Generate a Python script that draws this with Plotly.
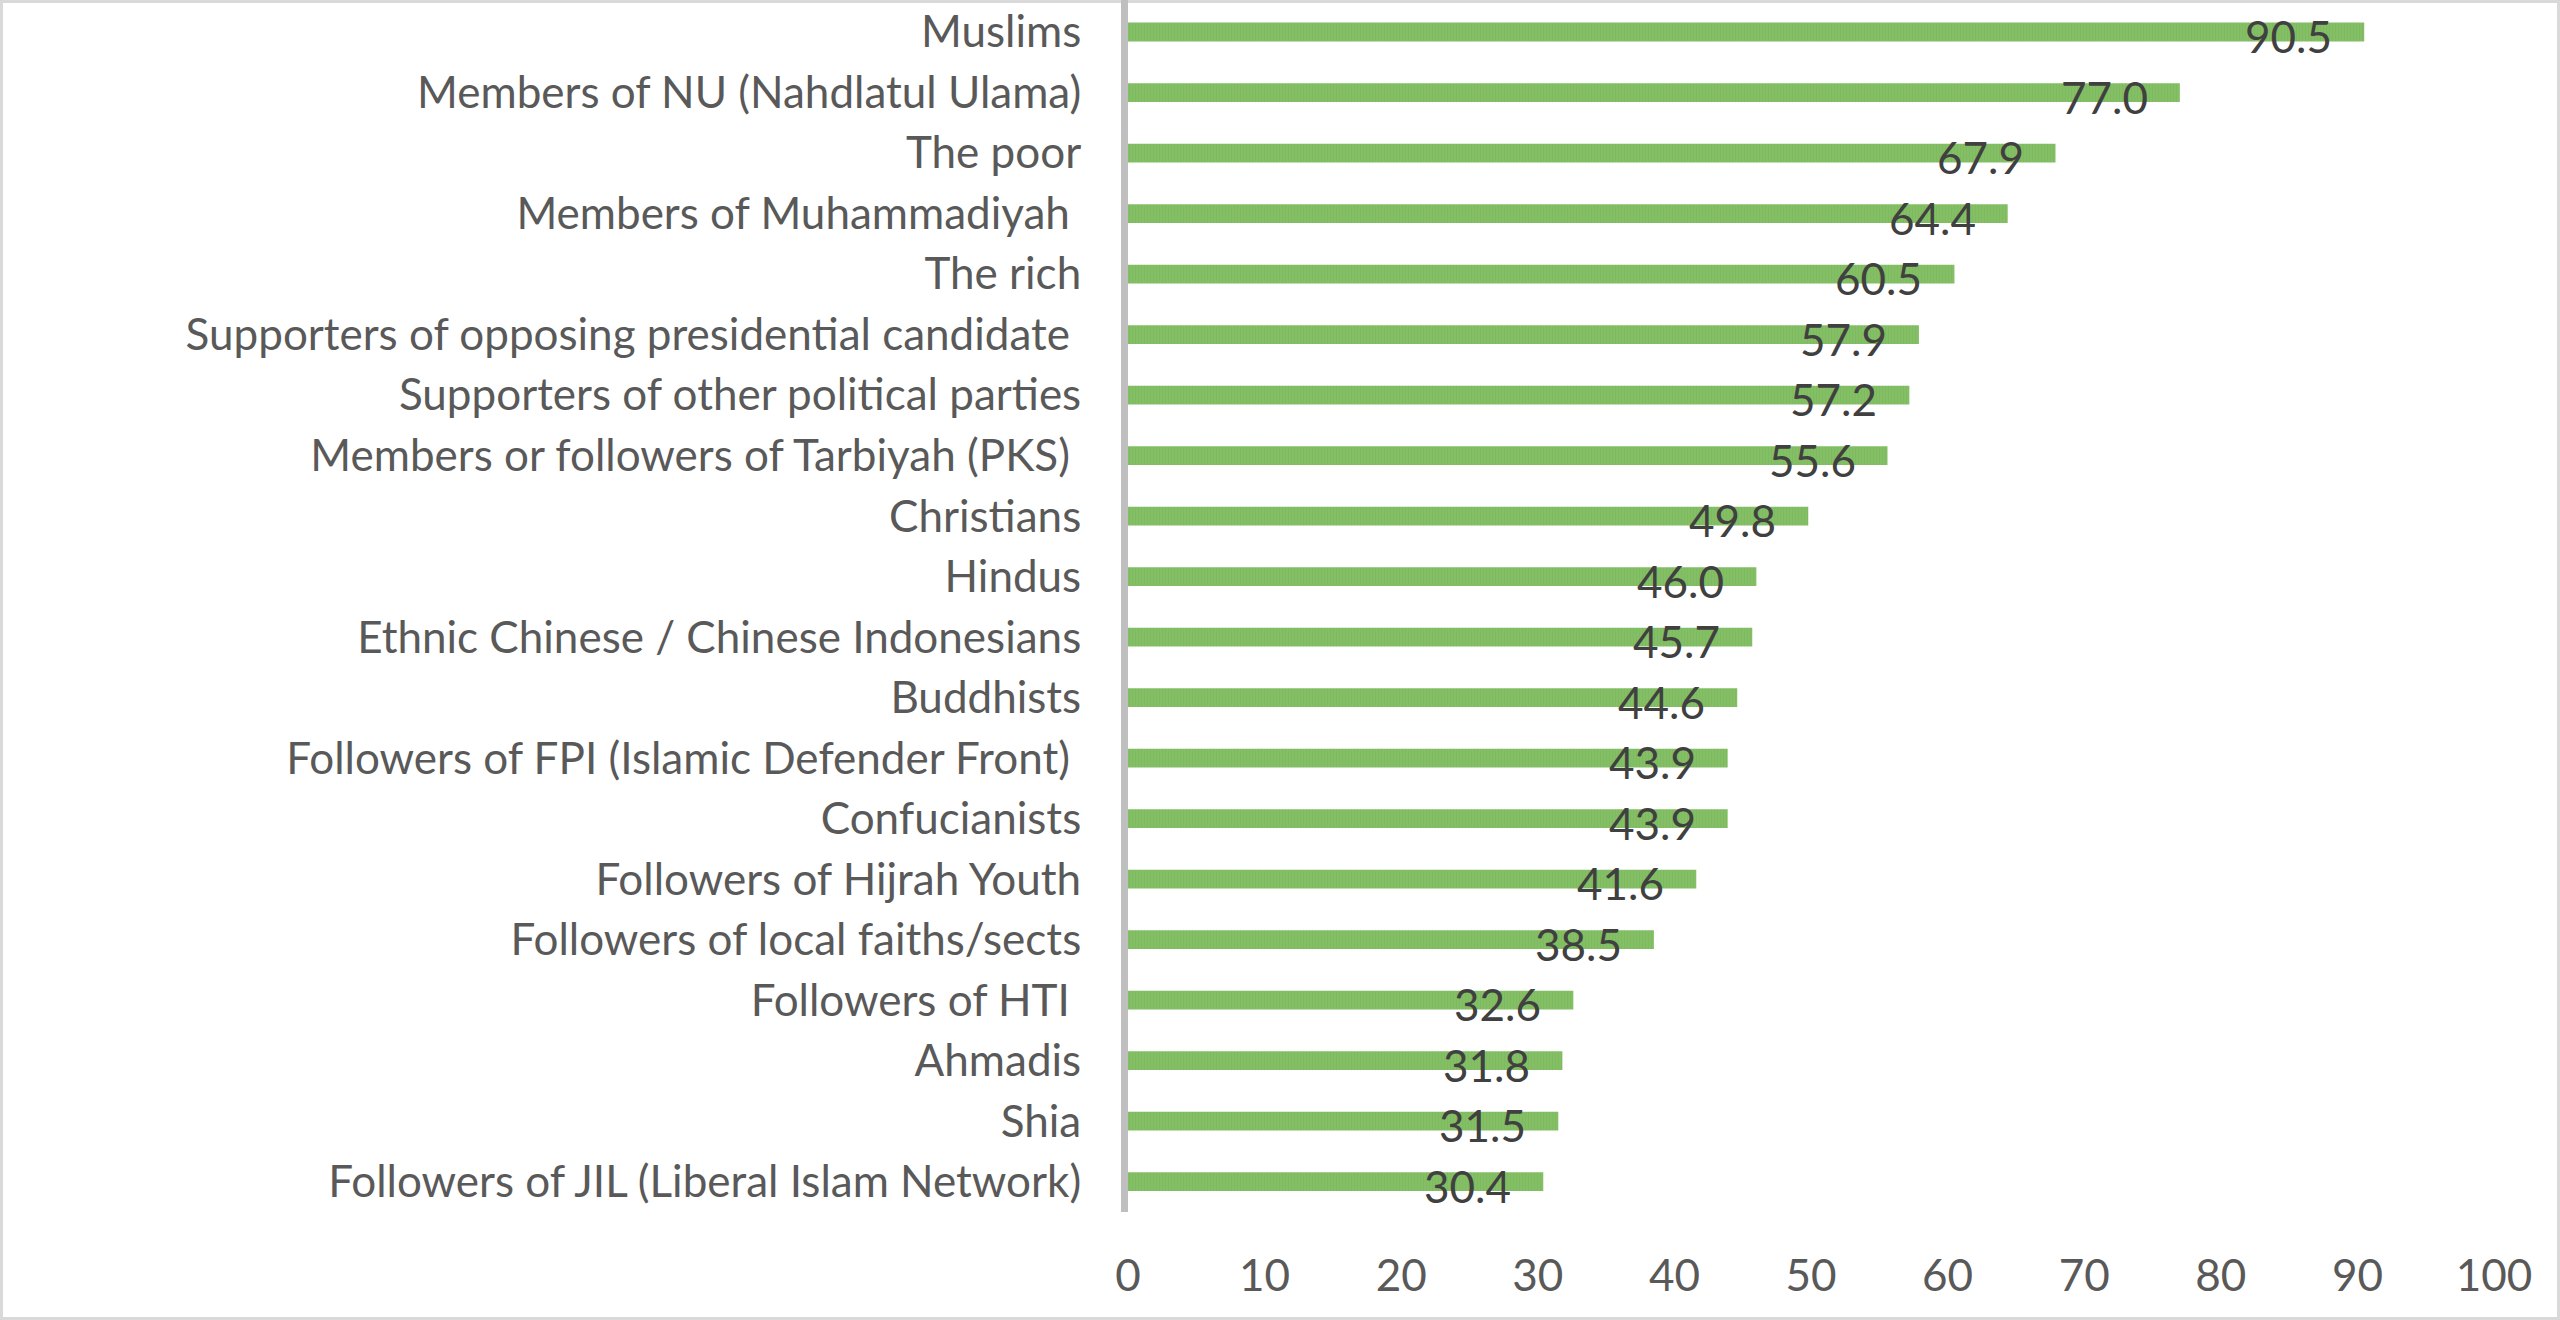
import plotly.graph_objects as go

categories = [
    "Muslims",
    "Members of NU (Nahdlatul Ulama)",
    "The poor",
    "Members of Muhammadiyah\u00a0",
    "The rich",
    "Supporters of opposing presidential candidate\u00a0",
    "Supporters of other political parties",
    "Members or followers of Tarbiyah (PKS)\u00a0",
    "Christians",
    "Hindus",
    "Ethnic Chinese / Chinese Indonesians",
    "Buddhists",
    "Followers of FPI (Islamic Defender Front)\u00a0",
    "Confucianists",
    "Followers of Hijrah Youth",
    "Followers of local faiths/sects",
    "Followers of HTI\u00a0",
    "Ahmadis",
    "Shia",
    "Followers of JIL (Liberal Islam Network)",
]
values = [90.5, 77.0, 67.9, 64.4, 60.5, 57.9, 57.2, 55.6, 49.8, 46.0,
          45.7, 44.6, 43.9, 43.9, 41.6, 38.5, 32.6, 31.8, 31.5, 30.4]
x_ticks = [0, 10, 20, 30, 40, 50, 60, 70, 80, 90, 100]

W, H = 2560, 1320
ml, mr, mt, mb = 1128, 66, 0, 108
FONT = "Lato"
FS = 44

fig = go.Figure()
fig.add_trace(go.Bar(
    x=values, y=categories, orientation="h", width=0.31,
    marker=dict(color="#80BC62", line=dict(width=0),
                pattern=dict(shape="|", size=3, solidity=0.25,
                             fgcolor="#74B153", bgcolor="#84BF66")),
    hoverinfo="x+y",
))

for c, v in zip(categories, values):
    fig.add_annotation(x=v, y=c, xref="x", yref="y", text=f"{v:.1f}",
                       showarrow=False, xanchor="right", xshift=-30, yshift=-4,
                       font=dict(family=FONT, size=FS, color="#404040"))

pw = W - ml - mr
ph = H - mt - mb
fig.add_shape(type="rect", xref="paper", yref="paper",
              x0=-ml / pw + 1.5 / pw, x1=1 + mr / pw - 1.5 / pw,
              y0=-mb / ph + 1.5 / ph, y1=1 + mt / ph - 1.5 / ph,
              line=dict(color="#D9D9D9", width=3), layer="below")

fig.update_layout(
    width=W, height=H,
    margin=dict(l=ml, r=mr, t=mt, b=mb, pad=0),
    paper_bgcolor="white", plot_bgcolor="white",
    showlegend=False,
    font=dict(family=FONT, color="#595959", size=FS),
    xaxis=dict(range=[0, 100], tickvals=x_ticks, showgrid=False, zeroline=False,
               showline=False, ticks="", ticklabelstandoff=34,
               tickfont=dict(family=FONT, size=FS, color="#595959")),
    yaxis=dict(categoryorder="array", categoryarray=categories, autorange="reversed",
               showgrid=False, zeroline=False, showline=True, linecolor="#BFBFBF",
               linewidth=7, ticks="", ticklabelstandoff=31,
               tickfont=dict(family=FONT, size=FS, color="#595959")),
)

fig.write_html("out.html", config={"displayModeBar": False},
               post_script="document.body.style.margin='0px';")
